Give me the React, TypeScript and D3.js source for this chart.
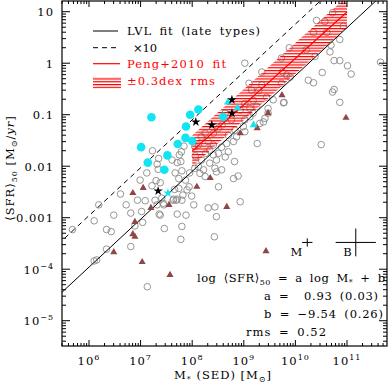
import * as d3 from "d3";
import { useEffect, useRef } from "react";

// [log M*, log <SFR>50]
const grayPoints: [number, number][] = [
  [5.68,-3.23],[6.10,-3.06],[6.19,-2.75],[6.34,-3.23],[6.43,-3.27],[6.34,-3.61],[6.10,-3.84],[6.15,-3.82],
  [6.48,-2.95],[6.61,-2.54],[6.72,-2.75],[6.81,-2.91],[6.81,-3.56],[6.94,-2.66],[6.89,-3.16],[7.02,-2.88],
  [7.04,-3.09],[7.09,-2.67],[7.13,-4.34],[7.28,-2.66],[7.38,-2.95],[7.44,-2.72],[7.46,-3.21],[7.63,-2.66],
  [7.69,-2.66],[7.80,-2.66],[7.71,-2.93],[7.80,-3.17],[7.78,-3.42],[7.88,-2.95],
  [6.99,-2.27],[7.23,-1.70],[7.35,-1.85],[7.32,-1.96],[7.12,-2.13],[7.34,-2.06],[7.30,-2.28],[7.38,-2.32],
  [7.22,-2.38],[7.41,-2.62],[7.32,-2.75],[7.45,-2.75],[7.36,-2.93],[7.61,-1.88],[7.71,-1.93],[7.78,-1.91],
  [7.79,-1.72],[7.75,-1.78],[7.84,-1.61],[7.67,-2.13],[7.80,-2.09],[7.74,-2.24],[7.87,-2.27],[7.66,-2.45],
  [7.74,-2.43],[7.82,-2.56],[7.90,-2.46],[7.64,-2.64],[7.71,-2.64],[7.95,-2.13],[7.94,-2.40],[7.99,-2.58],
  [8.03,-2.75],[8.06,-1.80],[8.05,-2.04],
  [9.10,-0.39],[9.15,-0.52],[9.29,-0.53],[9.44,-0.66],[9.57,-0.71],[9.77,-0.77],[9.25,-0.84],[9.12,-0.88],
  [9.47,-0.88],[9.47,-0.97],[9.41,-1.07],[9.31,-1.17],[9.38,-1.14],[9.18,-0.97],[9.12,-1.04],[9.02,-1.10],
  [8.99,-1.23],[9.02,-1.33],[8.86,-1.43],[8.70,-1.40],[8.80,-1.52],[8.67,-1.56],[8.57,-1.63],[8.70,-1.72],
  [8.51,-1.75],[8.64,-1.82],[8.41,-1.78],[8.34,-1.69],[8.26,-1.75],[8.47,-1.88],[8.34,-1.94],[8.18,-1.88],
  [8.12,-2.01],[8.22,-2.07],[8.15,-2.14],[8.25,-2.20],[8.44,-2.04],[8.47,-2.11],[8.57,-2.07],[8.82,-1.91],
  [8.80,-2.24],[8.89,-2.19],[8.51,-2.40],[8.93,-2.69],[8.31,-2.81],[8.44,-2.79],[8.47,-2.98],[9.26,-1.56],
  [8.25,-1.36],[8.18,-1.43],[8.12,-1.59],[8.31,-1.52],[8.41,-1.59],[8.64,-0.97],[8.58,-1.20],
  [10.72,0.98],[10.41,0.83],[10.57,0.81],[10.93,0.72],[10.35,0.60],[10.61,0.60],[10.86,0.46],[10.69,0.35],
  [10.67,0.22],[9.88,0.30],[10.21,0.26],[9.73,0.10],[10.38,0.13],[10.75,0.05],[10.86,0.05],[11.01,-0.05],
  [11.08,-0.21],[10.52,-0.18],[10.25,-0.33],[10.35,-0.38],[9.75,-0.17],[9.83,-0.23],[9.90,-0.27],[9.73,-0.39],
  [10.75,-0.51],[10.72,-0.56],[10.86,-0.76],[9.78,-0.76],[10.50,-1.58],[11.65,0.02],[9.02,0.00],[9.35,-0.17],
  [8.43,-3.37],
  [9.18,-0.72],[9.02,-0.78],[8.93,-0.91],[8.76,-1.10],[8.51,-1.26],[8.41,-1.36],[8.83,-1.30],[8.05,-1.62],[9.35,-0.42],
];
const cyanCircles: [number, number][] = [
  [7.21,-1.05],[7.96,-1.00],[8.12,-0.90],[7.88,-1.23],[7.87,-1.45],[8.00,-1.51],
  [7.72,-1.57],[7.01,-1.63],[7.52,-1.79],[7.14,-1.93],[7.46,-2.07],[8.60,-1.04],
];
const cyanTriangles: [number, number][] = [[8.69,-0.76],[8.88,-0.87],[9.19,-1.20]];
const cyanStars: [number, number][] = [[7.53,-2.52]];
const blackStars: [number, number][] = [[7.34,-2.48],[8.07,-1.14],[8.38,-1.20],[8.77,-0.71],[8.77,-0.97]];
const brownTriangles: [number, number][] = [
  [7.05,-2.42],[6.85,-2.52],[7.20,-2.81],[7.55,-2.75],[6.89,-3.08],[6.85,-3.32],[6.89,-3.37],[6.48,-3.67],
  [7.03,-3.86],[7.57,-4.11],[8.09,-2.40],[8.35,-2.23],[8.67,-2.79],[8.93,-1.36],[9.26,-1.26],[9.47,-0.97],
  [9.74,-0.62],[10.98,-1.06],[9.43,-3.65],
];

// fits
const lvlSlope = 0.93;
const lvlIntercept = -9.54;
const pengSlope = 0.9;
const pengAt10 = 0.094;
const pengRange = [8, 11];
const pengScatter = 0.3;

// typical error bars (dex)
const errorBars: { label: string; c: [number, number]; dx: number; dy: number }[] = [
  { label: "M", c: [10.23, -3.48], dx: 0.10, dy: 0.08 },
  { label: "B", c: [11.17, -3.48], dx: 0.39, dy: 0.27 },
];

const legendLabels = ["LVL fit (late types)", "\u00d710", "Peng+2010 fit", "\u00b10.3dex rms"];
const yTickLabels: [number, string, string][] = [
  [1, "10", ""], [0, "1", ""], [-1, "0.1", ""], [-2, "0.01", ""], [-3, "0.001", ""], [-4, "10", "\u22124"], [-5, "10", "\u22125"],
];
const xTickLabels: [number, string][] = [[6, "6"], [7, "7"], [8, "8"], [9, "9"], [10, "10"], [11, "11"]];

const FONT = "DejaVu Serif";

export default function App() {
  const ref = useRef<SVGSVGElement>(null);

  useEffect(() => {
    document.body.style.margin = "0";
    drawChart();
  }, []);

  function drawChart() {
    const svg = d3.select(ref.current);
    svg.selectAll("*").remove();

    const left = 62, right = 387, top = 1, bottom = 346;
    const x = d3.scaleLog().domain([10 ** 5.477, 10 ** 11.775]).range([left, right]);
    const y = d3.scaleLog().domain([10 ** -5.491, 10 ** 1.208]).range([bottom, top]);
    const px = (lm: number) => x(10 ** lm);
    const py = (ls: number) => y(10 ** ls);

    const defs = svg.append("defs");
    defs.append("clipPath").attr("id", "plotclip")
      .append("rect").attr("x", left).attr("y", top).attr("width", right - left).attr("height", bottom - top);
    const pat = defs.append("pattern").attr("id", "hatch").attr("patternUnits", "userSpaceOnUse")
      .attr("width", 10).attr("height", 2.8);
    pat.append("rect").attr("x", 0).attr("y", 0).attr("width", 10).attr("height", 1.2).attr("fill", "#ff0000");

    const plot = svg.append("g").attr("clip-path", "url(#plotclip)");

    // gray circles
    plot.selectAll(".gray").data(grayPoints).enter().append("circle")
      .attr("cx", d => px(d[0])).attr("cy", d => py(d[1])).attr("r", 3.3)
      .attr("fill", "none").attr("stroke", "#8a8a8a").attr("stroke-width", 0.9);

    // Peng band + line
    const pm = (lm: number) => pengSlope * (lm - 10) + pengAt10;
    const band = d3.area<number>().x(d => px(d)).y0(d => py(pm(d) - pengScatter)).y1(d => py(pm(d) + pengScatter));
    plot.append("path").datum(pengRange).attr("d", band).attr("fill", "url(#hatch)");
    const line = d3.line<[number, number]>().x(d => px(d[0])).y(d => py(d[1]));
    plot.append("path").datum(pengRange.map(m => [m, pm(m)] as [number, number])).attr("d", line)
      .attr("stroke", "#ff0000").attr("stroke-width", 1.2).attr("fill", "none");

    // LVL fit and x10
    const mRange = [5.4, 11.9];
    plot.append("path").datum(mRange.map(m => [m, lvlSlope * m + lvlIntercept] as [number, number])).attr("d", line)
      .attr("stroke", "black").attr("stroke-width", 1).attr("fill", "none");
    plot.append("path").datum(mRange.map(m => [m, lvlSlope * m + lvlIntercept + 1] as [number, number])).attr("d", line)
      .attr("stroke", "black").attr("stroke-width", 1).attr("stroke-dasharray", "5,4").attr("fill", "none");

    // coloured markers
    plot.selectAll(".cyanc").data(cyanCircles).enter().append("circle")
      .attr("cx", d => px(d[0])).attr("cy", d => py(d[1])).attr("r", 4.3).attr("fill", "#12e4f2");
    const sym = (type: d3.SymbolType, size: number) => d3.symbol().type(type).size(size)();
    plot.selectAll(".brown").data(brownTriangles).enter().append("path")
      .attr("d", sym(d3.symbolTriangle, 22)).attr("fill", "#8e4646")
      .attr("transform", d => `translate(${px(d[0])},${py(d[1])})`);
    plot.selectAll(".cyant").data(cyanTriangles).enter().append("path")
      .attr("d", sym(d3.symbolTriangle, 26)).attr("fill", "#12e4f2")
      .attr("transform", d => `translate(${px(d[0])},${py(d[1])})`);
    plot.selectAll(".cyans").data(cyanStars).enter().append("path")
      .attr("d", sym(d3.symbolStar, 28)).attr("fill", "#12e4f2")
      .attr("transform", d => `translate(${px(d[0])},${py(d[1])})`);
    plot.selectAll(".blacks").data(blackStars).enter().append("path")
      .attr("d", sym(d3.symbolStar, 28)).attr("fill", "black")
      .attr("transform", d => `translate(${px(d[0])},${py(d[1])})`);

    // error bars
    errorBars.forEach(e => {
      const cx = px(e.c[0]), cy = py(e.c[1]);
      svg.append("line").attr("x1", px(e.c[0] - e.dx)).attr("x2", px(e.c[0] + e.dx)).attr("y1", cy).attr("y2", cy)
        .attr("stroke", "black").attr("stroke-width", 1);
      svg.append("line").attr("x1", cx).attr("x2", cx).attr("y1", py(e.c[1] + e.dy)).attr("y2", py(e.c[1] - e.dy))
        .attr("stroke", "black").attr("stroke-width", 1);
      svg.append("text").attr("x", cx - (e.label === "M" ? 5 : 4)).attr("y", cy + 14)
        .attr("text-anchor", "end").attr("font-family", FONT).attr("font-size", 11.5).text(e.label);
    });

    // frame & ticks
    svg.append("rect").attr("x", left).attr("y", top).attr("width", right - left).attr("height", bottom - top)
      .attr("fill", "none").attr("stroke", "black").attr("stroke-width", 1.2);
    const ticks = svg.append("g").attr("stroke", "black").attr("stroke-width", 1);
    for (let dec = 5; dec <= 11; dec++) {
      for (let k = 1; k <= 9; k++) {
        const v = k * 10 ** dec;
        if (v < x.domain()[0] || v > x.domain()[1]) continue;
        const len = k === 1 ? 6 : 3;
        const xx = x(v);
        ticks.append("line").attr("x1", xx).attr("x2", xx).attr("y1", bottom).attr("y2", bottom - len);
        ticks.append("line").attr("x1", xx).attr("x2", xx).attr("y1", top).attr("y2", top + len);
      }
    }
    for (let dec = -6; dec <= 1; dec++) {
      for (let k = 1; k <= 9; k++) {
        const v = k * 10 ** dec;
        if (v < y.domain()[0] || v > y.domain()[1]) continue;
        const len = k === 1 ? 8 : 4;
        const yy = y(v);
        ticks.append("line").attr("x1", left).attr("x2", left + len).attr("y1", yy).attr("y2", yy);
        ticks.append("line").attr("x1", right).attr("x2", right - len).attr("y1", yy).attr("y2", yy);
      }
    }

    const txt = (xx: number, yy: number, anchor: string) =>
      svg.append("text").attr("x", xx).attr("y", yy).attr("text-anchor", anchor)
        .attr("font-family", FONT).attr("font-size", 11.5).attr("letter-spacing", 1).style("white-space", "pre");
    // text stretched to the width it has in the figure
    const wide = (xx: number, yy: number, w: number) =>
      svg.append("text").attr("x", xx).attr("y", yy).attr("textLength", w).attr("lengthAdjust", "spacing")
        .attr("font-family", FONT).attr("font-size", 11.5).attr("word-spacing", 3).style("white-space", "pre");

    // tick labels
    xTickLabels.forEach(([p, s]) => {
      const t = txt(px(p), 365, "middle");
      t.append("tspan").text("10");
      t.append("tspan").attr("dy", -5).attr("font-size", 8).text(s);
    });
    yTickLabels.forEach(([p, s, sup]) => {
      const t = txt(54, py(p) + 4.5, "end");
      t.append("tspan").text(s);
      if (sup) t.append("tspan").attr("dy", -5).attr("font-size", 8).text(sup);
    });

    // axis titles
    const xt = txt(223, 379, "middle");
    xt.append("tspan").text("M");
    xt.append("tspan").attr("dy", 3).attr("font-size", 8).text("*");
    xt.append("tspan").attr("dy", -3).text(" (SED) [M");
    xt.append("tspan").attr("dy", 3).attr("font-size", 8).text("\u2299");
    xt.append("tspan").attr("dy", -3).text("]");

    const yt = svg.append("text").attr("transform", "translate(14,168) rotate(-90)").attr("text-anchor", "middle")
      .attr("font-family", FONT).attr("font-size", 11.5).attr("letter-spacing", 1).style("white-space", "pre");
    yt.append("tspan").text("\u27e8SFR\u27e9");
    yt.append("tspan").attr("dy", 3).attr("font-size", 8).text("50");
    yt.append("tspan").attr("dy", -3).text(" [M");
    yt.append("tspan").attr("dy", 3).attr("font-size", 8).text("\u2299");
    yt.append("tspan").attr("dy", -3).text("/");
    yt.append("tspan").attr("font-style", "italic").text("yr");
    yt.append("tspan").text("]");

    // legend
    const rows = [35, 51.5, 68, 85];
    const widths = [133, 24, 99, 88];
    svg.append("line").attr("x1", 93).attr("x2", 118).attr("y1", 31).attr("y2", 31).attr("stroke", "black");
    svg.append("line").attr("x1", 93).attr("x2", 118).attr("y1", 47.7).attr("y2", 47.7).attr("stroke", "black")
      .attr("stroke-dasharray", "5,4");
    svg.append("line").attr("x1", 93).attr("x2", 120).attr("y1", 63.7).attr("y2", 63.7).attr("stroke", "#ff0000").attr("stroke-width", 1.2);
    svg.append("rect").attr("x", 93).attr("y", 77).attr("width", 28).attr("height", 11.5).attr("fill", "url(#hatch)");
    legendLabels.forEach((l, i) => {
      wide(i === 1 ? 133 : 127, rows[i], widths[i]).attr("fill", i >= 2 ? "#ff0000" : "black").text(l);
    });

    // fit annotation
    const e1 = wide(197, 282, 188);
    e1.append("tspan").text("log \u27e8SFR\u27e9");
    e1.append("tspan").attr("dy", 3).attr("font-size", 8).text("50");
    e1.append("tspan").attr("dy", -3).text(" = a log M");
    e1.append("tspan").attr("dy", 3).attr("font-size", 8).text("*");
    e1.append("tspan").attr("dy", -3).text(" + b");
    wide(264, 300, 114).text(`a =  ${lvlSlope.toFixed(2)} (0.03)`);
    wide(264, 318, 119).text(`b = \u2212${Math.abs(lvlIntercept).toFixed(2)} (0.26)`);
    wide(246, 336, 80).text("rms = 0.52");
  }

  return <svg ref={ref} width={390} height={387} style={{ display: "block", background: "white" }} />;
}
